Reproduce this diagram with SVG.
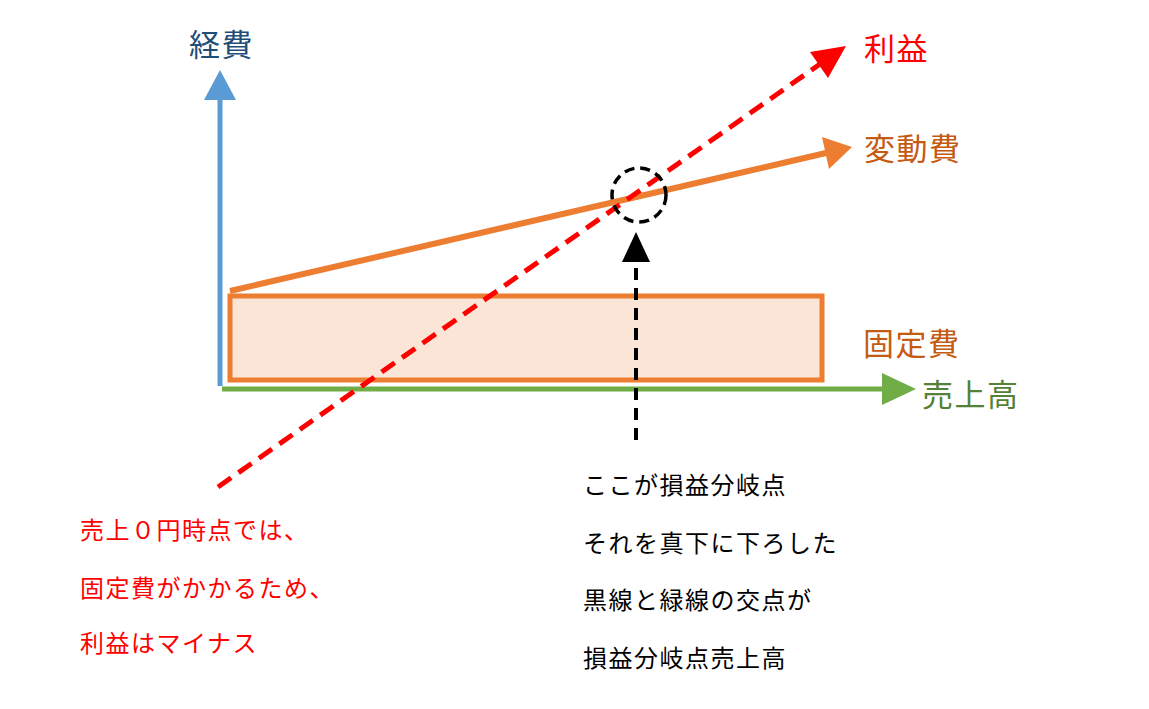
<svg xmlns="http://www.w3.org/2000/svg" width="1149" height="709" viewBox="0 0 1149 709">
<style>
text{font-family:"Noto Sans CJK JP","Noto Sans",sans-serif;}
.lbl{font-size:31px;letter-spacing:1.5px;}
.note{font-size:24px;letter-spacing:1.5px;}
</style>
<rect width="1149" height="709" fill="#fff"/>
<g id="fixed-cost"><rect x="230" y="296" width="592" height="84" fill="#FBE5D6" stroke="#ED7D31" stroke-width="5"/><text class="lbl" x="863" y="355" fill="#C55A11">固定費</text></g>
<g id="connectors">
<line x1="220" y1="386" x2="220" y2="98" stroke="#5B9BD5" stroke-width="5"/>
<polygon points="204,100 236,100 220,70" fill="#5B9BD5"/>
<line x1="222" y1="389" x2="884" y2="389" stroke="#70AD47" stroke-width="5"/>
<polygon points="882,373 882,405 916,389" fill="#70AD47"/>
<line x1="230" y1="291" x2="826" y2="153" stroke="#ED7D31" stroke-width="6"/>
<polygon points="822,137 829,169 852,147" fill="#ED7D31"/>
<line x1="218" y1="487" x2="820" y2="64" stroke="#FF0000" stroke-width="5" stroke-dasharray="16,9"/>
<polygon points="810,52 828,78 846,46" fill="#FF0000"/>
<line x1="636" y1="440" x2="636" y2="260" stroke="#000" stroke-width="4" stroke-dasharray="12,8"/>
<polygon points="622,262 650,262 636,232" fill="#000"/>
</g>
<g id="break-even"><circle cx="639" cy="195" r="27" fill="none" stroke="#000" stroke-width="3.5" stroke-dasharray="10,6"/></g>
<g id="y-axis"><text class="lbl" x="189" y="56" fill="#1F4E79">経費</text></g>
<g id="x-axis"><text class="lbl" x="922" y="406" fill="#538135">売上高</text></g>
<g id="variable"><text class="lbl" x="864" y="160" fill="#C55A11">変動費</text></g>
<g id="profit"><text class="lbl" x="864" y="60" fill="#FF0000">利益</text></g>
<g id="note-black" fill="#000">
<text class="note" x="583" y="494">ここが損益分岐点</text>
<text class="note" x="583" y="552">それを真下に下ろした</text>
<text class="note" x="583" y="609">黒線と緑線の交点が</text>
<text class="note" x="583" y="667">損益分岐点売上高</text>
</g>
<g id="note-red" fill="#FF0000">
<text class="note" x="80" y="539">売上０円時点では、</text>
<text class="note" x="80" y="597">固定費がかかるため、</text>
<text class="note" x="80" y="652">利益はマイナス</text>
</g>
</svg>
